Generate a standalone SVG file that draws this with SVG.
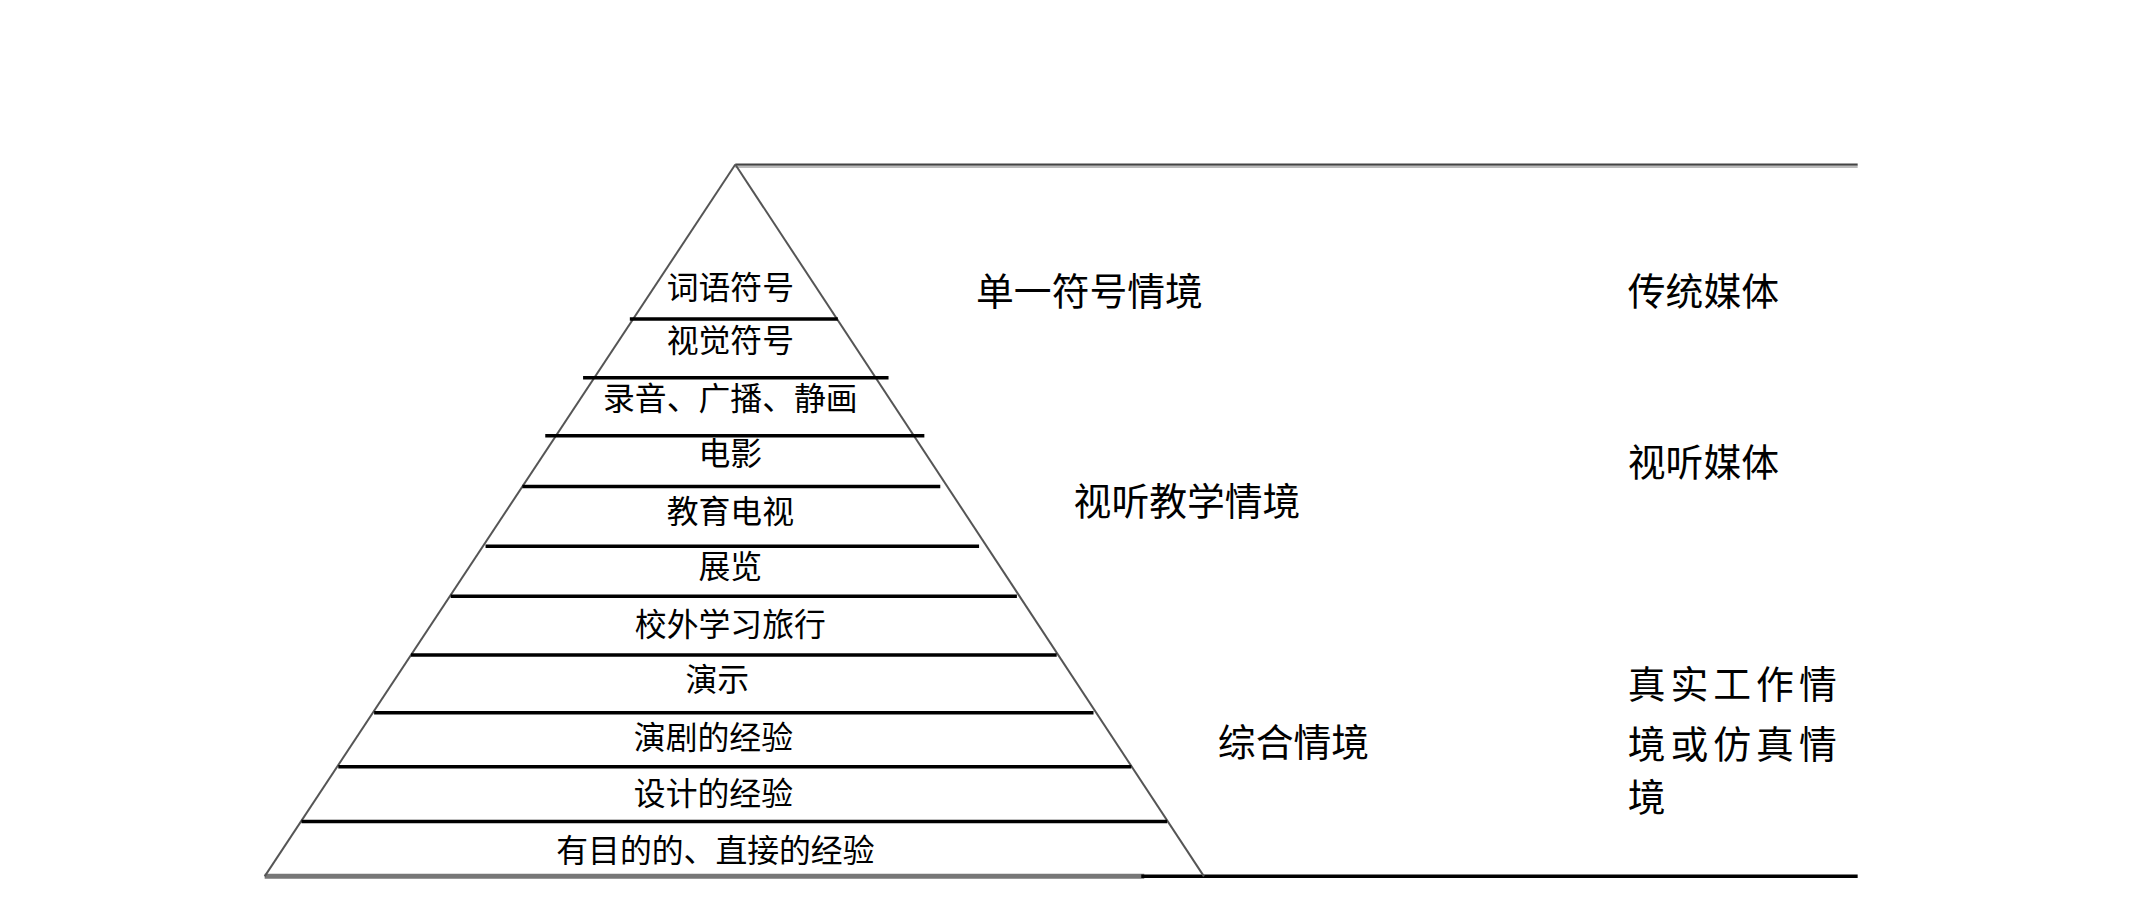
<svg xmlns="http://www.w3.org/2000/svg" width="2150" height="900" viewBox="0 0 2150 900">
<style>
.lvl{font-family:"Liberation Sans","Noto Sans CJK SC",sans-serif;font-size:32px;fill:#000;text-anchor:middle}
.side{font-family:"Liberation Sans","Noto Sans CJK SC",sans-serif;font-size:38px;fill:#000}
.sep{stroke:#000;stroke-width:3.5}
.edge{stroke:#555;stroke-width:2;fill:none}
</style>
<rect width="2150" height="900" fill="#fff"/>
<g transform="matrix(0.995 0 0 0.997 0 0)">
<g id="frame">
<line x1="739" y1="167" x2="1867" y2="167" stroke="#bbb" stroke-width="3"/>
<line x1="739" y1="165" x2="1867" y2="165" stroke="#444" stroke-width="2"/>
<line x1="266" y1="879" x2="1150" y2="879" stroke="#777" stroke-width="5"/>
<line x1="1147" y1="879" x2="1867" y2="879" stroke="#000" stroke-width="3.5"/>
</g>
<g id="pyramid">
<line class="edge" x1="739" y1="165" x2="266" y2="879"/>
<line class="edge" x1="739" y1="165" x2="1210" y2="879"/>
<line class="sep" x1="633" y1="320" x2="842" y2="320"/>
<line class="sep" x1="586" y1="379" x2="893" y2="379"/>
<line class="sep" x1="548" y1="437" x2="929" y2="437"/>
<line class="sep" x1="525" y1="488" x2="945" y2="488"/>
<line class="sep" x1="488" y1="548" x2="984" y2="548" stroke-width="2"/>
<line class="sep" x1="453" y1="598" x2="1022" y2="598"/>
<line class="sep" x1="413" y1="657" x2="1062" y2="657"/>
<line class="sep" x1="376" y1="715" x2="1099" y2="715"/>
<line class="sep" x1="340" y1="769" x2="1137" y2="769"/>
<line class="sep" x1="303" y1="824" x2="1173" y2="824"/>
</g>
<g id="l1"><text class="lvl" x="734" y="300">词语符号</text></g>
<g id="l2"><text class="lvl" x="734" y="353">视觉符号</text></g>
<g id="l3"><text class="lvl" x="734" y="411">录音、广播、静画</text></g>
<g id="l4"><text class="lvl" x="734" y="466">电影</text></g>
<g id="l5"><text class="lvl" x="734" y="525">教育电视</text></g>
<g id="l6"><text class="lvl" x="734" y="580">展览</text></g>
<g id="l7"><text class="lvl" x="734" y="638">校外学习旅行</text></g>
<g id="l8"><text class="lvl" x="721" y="693">演示</text></g>
<g id="l9"><text class="lvl" x="717" y="751">演剧的经验</text></g>
<g id="l10"><text class="lvl" x="717" y="807">设计的经验</text></g>
<g id="l11"><text class="lvl" x="719" y="865">有目的的、直接的经验</text></g>
<g id="s1"><text class="side" x="981" y="306">单一符号情境</text></g>
<g id="s2"><text class="side" x="1079" y="517">视听教学情境</text></g>
<g id="s3"><text class="side" x="1224" y="758">综合情境</text></g>
<g id="m1"><text class="side" x="1636" y="306">传统媒体</text></g>
<g id="m2"><text class="side" x="1636" y="477">视听媒体</text></g>
<g id="m3"><text class="side" letter-spacing="5"><tspan x="1636" y="700">真实工作情</tspan><tspan x="1636" y="760">境或仿真情</tspan><tspan x="1636" y="813">境</tspan></text></g>
</g>
</svg>
